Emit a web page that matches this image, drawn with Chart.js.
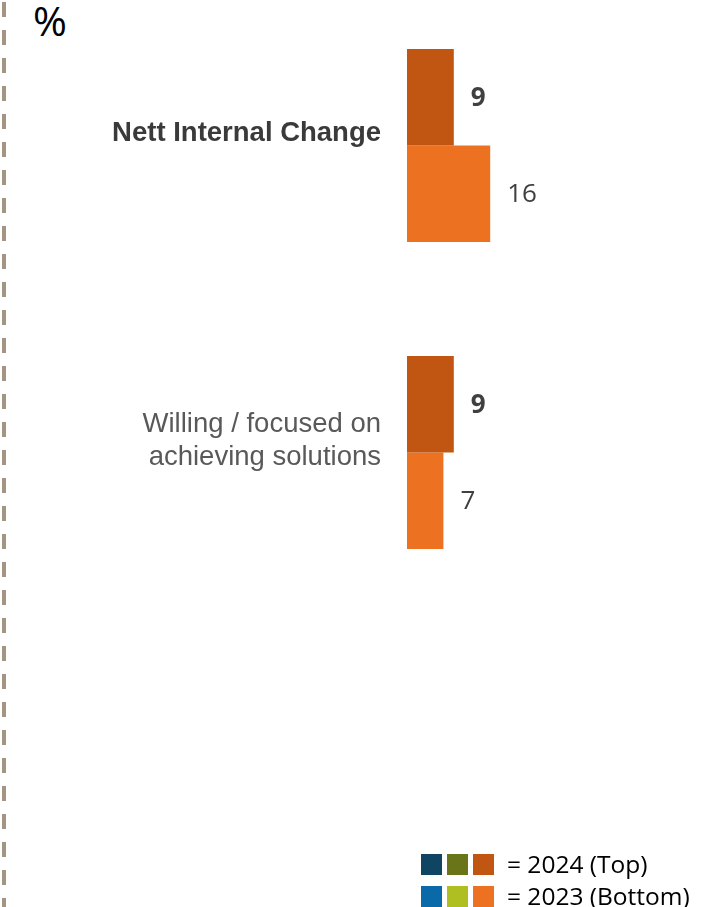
<!DOCTYPE html>
<html>
<head>
<meta charset="utf-8">
<script src="https://cdn.jsdelivr.net/npm/chart.js@4"></script>
<style>
  html, body { margin: 0; padding: 0; background: #fff; overflow: hidden; }
  body { width: 721px; height: 907px; position: relative; }
  #wrap { position: absolute; left: 0; top: -8px; width: 721px; height: 915px; }
  .rule {
    position: absolute; left: 2px; top: 2px; width: 4px; height: 905px;
    background: repeating-linear-gradient(to bottom, #a39483 0 15px, transparent 15px 28px);
  }
  .unit {
    position: absolute; left: 33px; top: -8px;
    font: 41px "Open Sans", sans-serif; color: #000; line-height: 56px;
  }
  .legend { position: absolute; left: 421px; top: 854px; font: 24.5px "Open Sans", sans-serif; color: #000; }
  .legend .row { display: flex; align-items: center; height: 21px; margin-bottom: 11px; }
  .legend .sw { width: 21px; height: 21px; margin-right: 5px; flex: none; }
  .legend .txt { margin-left: 8px; white-space: nowrap; line-height: 21px; position: relative; top: -1px; }
</style>
</head>
<body>
<div class="rule"></div>
<div class="unit">%</div>
<div id="wrap"><canvas id="chart-bar" width="721" height="915"></canvas></div>
<div class="legend" id="legend"></div>

<script>
// data
const categories = ['Nett Internal Change', ['Willing / focused on', 'achieving solutions']];
const values2024 = [9, 9];
const values2023 = [16, 7];
const seriesNames = ['= 2024 (Top)', '= 2023 (Bottom)'];

const colors2024 = ['#0f4463', '#6a7418', '#c05612'];
const colors2023 = ['#0a69a8', '#afbf22', '#ec7222'];

// legend, three swatches per year
const legend = document.getElementById('legend');
[colors2024, colors2023].forEach((set, i) => {
    const row = document.createElement('div');
    row.className = 'row';
    set.forEach(c => {
        const sw = document.createElement('div');
        sw.className = 'sw';
        sw.style.background = c;
        row.appendChild(sw);
    });
    const t = document.createElement('span');
    t.className = 'txt';
    t.textContent = seriesNames[i];
    row.appendChild(t);
    legend.appendChild(row);
});

// value labels at the end of each bar
const barValues = {
    id: 'barValues',
    afterDatasetsDraw(chart) {
        const c = chart.ctx;
        chart.data.datasets.forEach((ds, i) => {
            chart.getDatasetMeta(i).data.forEach((bar, j) => {
                c.save();
                c.font = (i === 0 ? 'bold ' : '') + '26px "Open Sans"';
                c.fillStyle = '#404040';
                c.textAlign = 'left';
                c.textBaseline = 'middle';
                c.fillText(ds.data[j], bar.x + 17, bar.y + 1);
                c.restore();
            });
        });
    }
};

const chartbar = document.getElementById('chart-bar');

new Chart(chartbar, {
    type: 'bar',
    data: {
        labels: categories,
        datasets: [{
            label: '2024',
            data: values2024,
            backgroundColor: colors2024[2]
        }, {
            label: '2023',
            data: values2023,
            backgroundColor: colors2023[2]
        }]
    },
    options: {
        indexAxis: 'y',
        responsive: false,
        animation: false,
        categoryPercentage: 0.629,
        barPercentage: 1,
        layout: {
            padding: { top: 0, left: 0, right: 2, bottom: 301 }
        },
        scales: {
            x: {
                display: false,
                min: 0,
                max: 60
            },
            y: {
                grid: { display: false },
                border: { display: false },
                ticks: {
                    padding: 18,
                    labelOffset: -12,
                    color: (c) => c.index === 0 ? '#3a3a3a' : '#595959',
                    font: (c) => ({
                        family: 'Liberation Sans',
                        size: 27.5,
                        weight: c.index === 0 ? 'bold' : 'normal',
                        lineHeight: 1.2
                    })
                },
                afterFit(scale) {
                    scale.width = 407;
                    scale.paddingTop = 0;
                    scale.paddingBottom = 0;
                }
            }
        },
        plugins: {
            legend: { display: false },
            tooltip: { enabled: false }
        }
    },
    plugins: [barValues]
});
</script>
</body>
</html>
